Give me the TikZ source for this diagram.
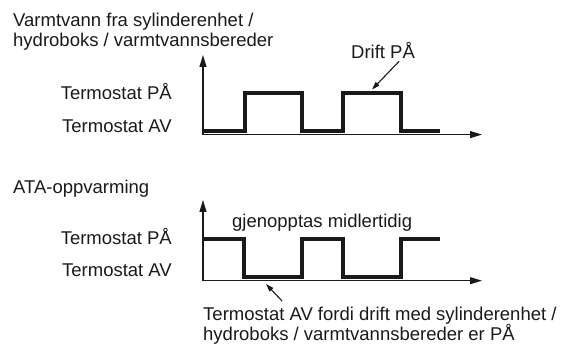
\documentclass[tikz,border=0pt]{standalone}
\usepackage{fontspec}
\setmainfont{Liberation Sans}
\usepackage{tikz}
\usetikzlibrary{arrows.meta,calc}
\definecolor{INK}{HTML}{1A1A1A}

\begin{document}
\begin{tikzpicture}[x=1pt,y=-1pt]
\tikzset{axisline/.style={{Triangle[length=12pt,width=7pt]}-{Triangle[length=12pt,width=7pt]},line width=1.1pt,INK},
 sig/.style={line width=4pt,INK,line join=miter},
 note/.style={-{Triangle[length=8pt,width=5pt]},line width=1.1pt,INK},
 lbl/.style={inner sep=0pt,font=\fontsize{18.5}{20}\selectfont,text=INK}}
\useasboundingbox (0,0) rectangle (568,347);
% upper diagram
\node[lbl,anchor=north west,align=left] (title1) at (13,12.5) {Varmtvann fra sylinderenhet /\\hydroboks / varmtvannsbereder};
\coordinate (y1) at (203,55);\coordinate (o1) at (203,134.6);\coordinate (x1) at (482,134.6);
\draw[axisline] (y1) -- (o1) -- (x1);
\node[lbl,anchor=base east] (pa1) at (172,100) {Termostat PÅ};
\node[lbl,anchor=base east] (av1) at (172,133) {Termostat AV};
\draw[sig] (203,130.7) -- (244.5,130.7) -- (244.5,92.7) -- (302,92.7) -- (302,130.7) -- (343,130.7) -- (343,92.7) -- (400.7,92.7) -- (400.7,130.7) -- (440,130.7);
\node[lbl,anchor=base west] (drift) at (351,59) {Drift PÅ};
\coordinate (drifttip) at (372,89.5);
\draw[note] ($(drift.south)!0.5!(drift.south east)+(0,2)$) -- (drifttip);
% lower diagram
\node[lbl,anchor=base west] (title2) at (13,194) {ATA-oppvarming};
\coordinate (y2) at (203,200);\coordinate (o2) at (203,280.7);\coordinate (x2) at (482,280.7);
\draw[axisline] (y2) -- (o2) -- (x2);
\node[lbl,anchor=base east] (pa2) at (172,245) {Termostat PÅ};
\node[lbl,anchor=base east] (av2) at (172,277) {Termostat AV};
\draw[sig] (203,239.3) -- (244,239.3) -- (244,277.3) -- (302,277.3) -- (302,239.3) -- (343,239.3) -- (343,277.3) -- (401,277.3) -- (401,239.3) -- (440,239.3);
\node[lbl,anchor=base west] (resume) at (232,228) {gjenopptas midlertidig};
\node[lbl,anchor=north west,align=left] (note) at (203,307) {Termostat AV fordi drift med sylinderenhet /\\hydroboks / varmtvannsbereder er PÅ};
\coordinate (notetip) at (266,284);
\draw[note] ($(note.north west)+(79,-6)$) -- (notetip);
\end{tikzpicture}
\end{document}
